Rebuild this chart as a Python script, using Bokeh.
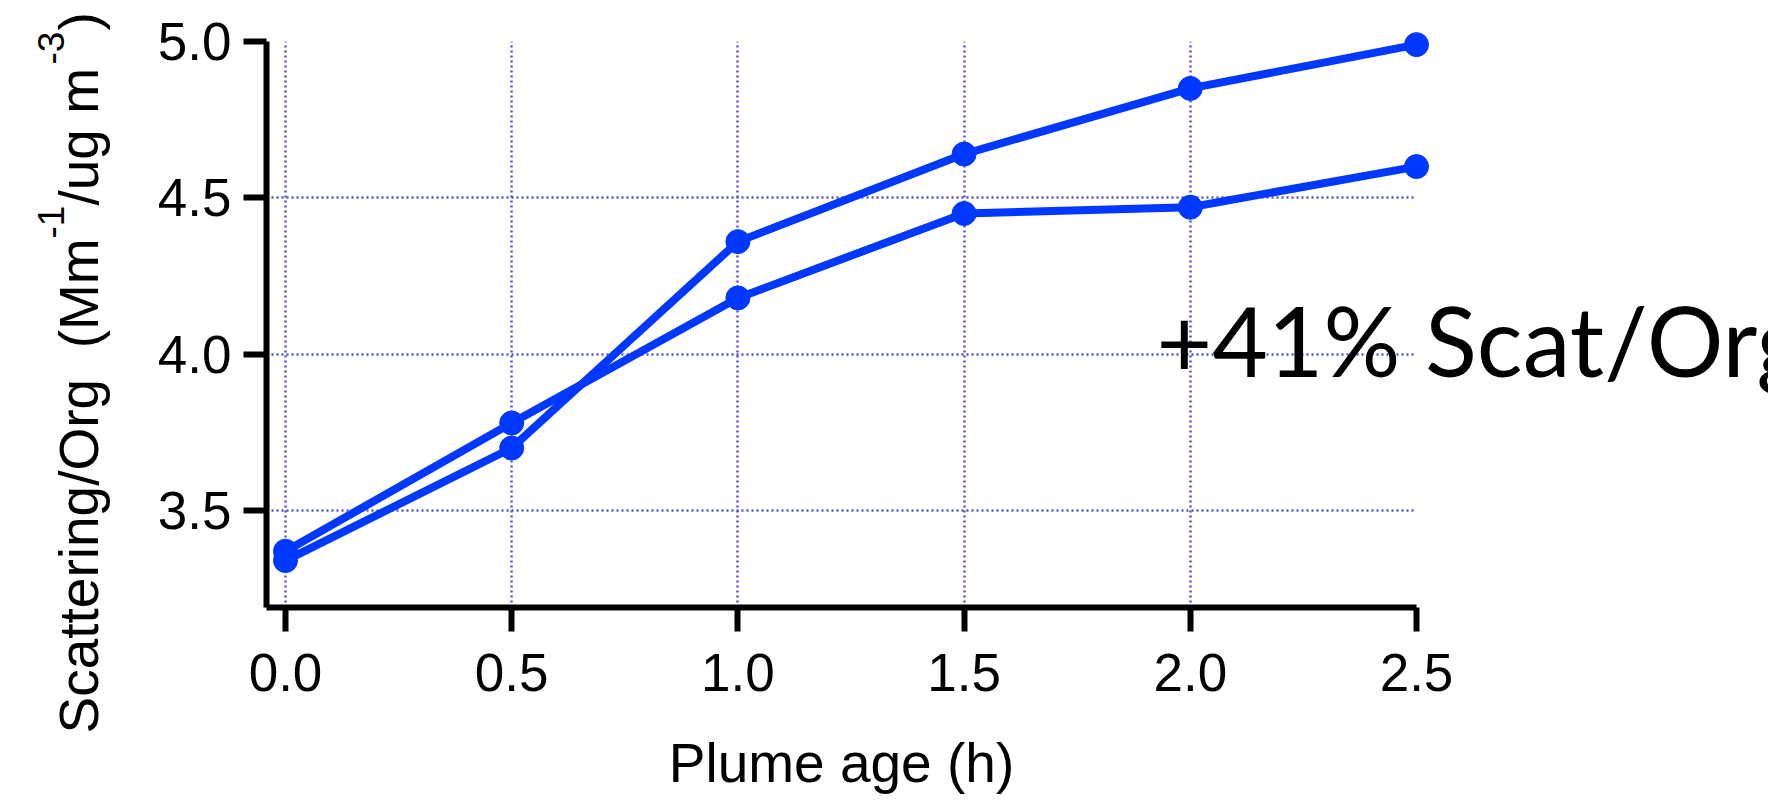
import math
from bokeh.plotting import figure
from bokeh.models import Range1d, PrintfTickFormatter
from bokeh.core.properties import value
from bokeh.embed import file_html
from bokeh.resources import INLINE

# ---- data ----
plume_age = [0.0, 0.5, 1.0, 1.5, 2.0, 2.5]
series_a = [3.34, 3.70, 4.36, 4.64, 4.85, 4.99]
series_b = [3.37, 3.78, 4.18, 4.45, 4.47, 4.60]
x_ticks = [0.0, 0.5, 1.0, 1.5, 2.0, 2.5]
y_ticks = [3.5, 4.0, 4.5, 5.0]
annotation_text = "+41% Scat/Org"
x_label = "Plume age (h)"
# y label pieces: (text, is_superscript)
y_label_parts = [("Scattering/Org\u00a0 (Mm", False), ("-1", True), ("/ug m", False),
                 ("-3", True), (")", False)]

BLUE = "#0038ff"
GRID = "#5252d6"

# ---- layout (canvas pixels) ----
W, H = 1768, 803
F_LEFT, F_RIGHT, F_TOP, F_BOTTOM = 266, 1416, 41, 607
X0, X1, Y0, Y1 = -0.042, 2.5, 3.19, 5.0


def px_x(px):
    return X0 + (px - F_LEFT) * (X1 - X0) / (F_RIGHT - F_LEFT)


def px_y(py):
    return Y1 - (py - F_TOP) * (Y1 - Y0) / (F_BOTTOM - F_TOP)


p = figure(width=W, height=H, output_backend="svg", toolbar_location=None,
           x_range=Range1d(X0, X1), y_range=Range1d(Y0, Y1),
           min_border_left=F_LEFT, min_border_right=W - F_RIGHT,
           min_border_top=F_TOP, min_border_bottom=H - F_BOTTOM)
p.outline_line_color = None
p.background_fill_color = "white"
p.border_fill_color = "white"

for s in (series_a, series_b):
    p.line(plume_age, s, line_color=BLUE, line_width=8, level="overlay")
    p.scatter(plume_age, s, size=24, fill_color=BLUE, line_color=BLUE, level="overlay")

# grid
p.xgrid.ticker = x_ticks
p.ygrid.ticker = y_ticks
for g in (p.xgrid, p.ygrid):
    g.grid_line_color = GRID
    g.grid_line_width = 2.5
    g.grid_line_dash = "2 3"

# axes
p.xaxis.ticker = x_ticks
p.yaxis.ticker = y_ticks
p.axis.formatter = PrintfTickFormatter(format="%.1f")
p.axis.minor_tick_line_color = None
p.axis.axis_line_width = 6
p.axis.axis_line_color = "black"
p.axis.major_tick_line_width = 6
p.axis.major_tick_line_color = "black"
p.axis.major_tick_in = 0
p.xaxis.major_tick_out = 24
p.yaxis.major_tick_out = 23
p.axis.major_label_text_font = "Liberation Sans"
p.axis.major_label_text_font_size = "53px"
p.axis.major_label_text_color = "black"
p.xaxis.major_label_standoff = 22
p.yaxis.major_label_standoff = 12

p.xaxis.axis_label = x_label
p.xaxis.axis_label_text_font = "Liberation Sans"
p.xaxis.axis_label_text_font_style = "normal"
p.xaxis.axis_label_text_font_size = "55px"
p.xaxis.axis_label_text_color = "black"
p.xaxis.axis_label_standoff = 38

# y axis label, drawn as rotated text pieces (with raised superscripts)
starts = [733, 238, 205, 64, 30]
for (txt, sup), sy in zip(y_label_parts, starts):
    p.text(x=[px_x(50 if sup else 78)], y=[px_y(sy)], text=[txt],
           angle=math.pi / 2, text_align="left", text_baseline="alphabetic",
           text_font=value("Liberation Sans"),
           text_font_size="37px" if sup else "55px",
           text_color="black", level="overlay")

# annotation
p.text(x=[px_x(1156)], y=[px_y(339)], text=[annotation_text],
       text_font=value("Lato"), text_font_size="96px", text_color="black",
       text_align="left", text_baseline="alphabetic", level="overlay")

open("out.html", "w").write(file_html(p, INLINE))
